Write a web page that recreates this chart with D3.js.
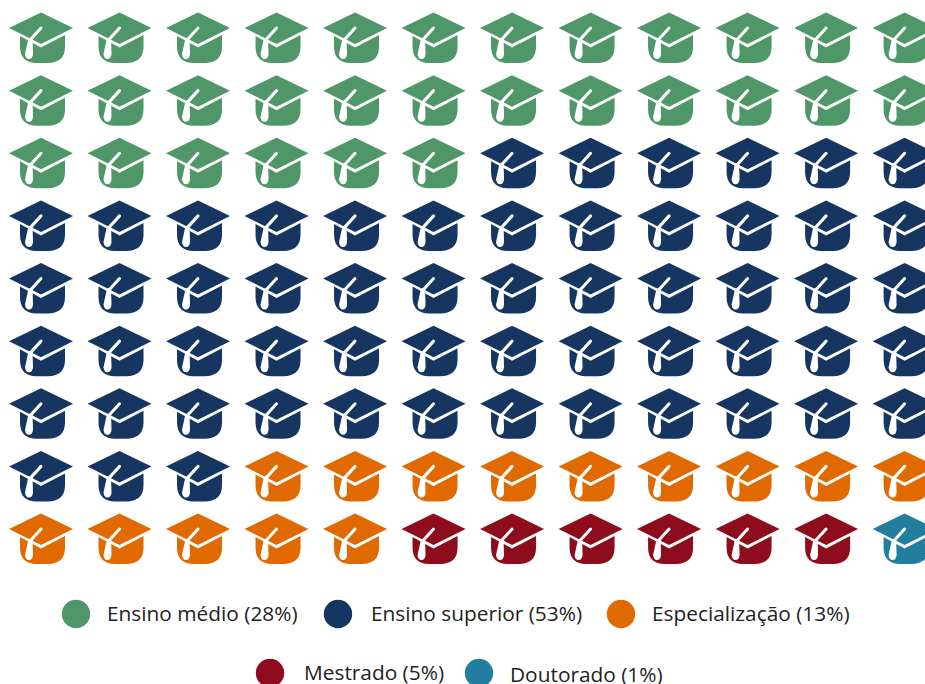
<!DOCTYPE html>
<html><head><meta charset="utf-8">
<script src="https://cdn.jsdelivr.net/npm/d3@7"></script>
<style>html,body{margin:0;padding:0;background:#fff;overflow:hidden}svg{display:block}text{font-family:"Open Sans",sans-serif;font-size:20.85px;fill:#222}</style>
</head><body><svg id="c" width="925" height="684"></svg>
<script>
const categories=["Ensino médio","Ensino superior","Especialização","Mestrado","Doutorado"];
const percents=[28,53,13,5,1];
const iconCounts=[30,57,14,6,1];
const colors=["#4f9768","#153661","#e06a00","#8e0a1e","#227e9e"];
const legendCircleX=[76,338,621,270,479];
const legendTextX=[107,371,652,304,510];
const legendY=[614,614,614,673,673];
const legendTextY=[621,621,621,680,682];
const columnCount=12,rowCount=9;

const svg=d3.select("#c");
const defs=svg.append("defs");
defs.append("filter").attr("id","soft").attr("x","-10%").attr("y","-10%").attr("width","120%").attr("height","120%")
  .append("feGaussianBlur").attr("stdDeviation",0.7);

const icons=categories.flatMap((c,i)=>d3.range(iconCounts[i]).map(()=>i));
const x=d3.scalePoint().domain(d3.range(columnCount)).range([41,904.6]);
const y=d3.scalePoint().domain(d3.range(rowCount)).range([38,539]);

const bodyPath="M-21,-2 L-21,9 C-21,20 -14,25 -5,25 L7,25 C17,25 24,20 24,9 L24,-3 L0,9.5 Z";
const capPath="M-32,-10 L0,-25.5 L32,-10 L0,6 Z";
const stemPath="M0,-10 L-10,1";
const tasselPath="M-12.5,0 L-8.5,0 L-8,16 Q-8.5,21 -12,21 Q-15.5,21 -16,16 Z";

const g=svg.append("g").attr("filter","url(#soft)");
const icon=g.selectAll("g.icon").data(icons).join("g").attr("class","icon")
  .attr("transform",(d,i)=>`translate(${x(i%columnCount)},${y(Math.floor(i/columnCount))})`);
icon.append("path").attr("d",bodyPath).attr("fill",d=>colors[d]);
icon.append("path").attr("d",capPath).attr("fill",d=>colors[d]);
icon.append("path").attr("d",stemPath).attr("stroke","#fff").attr("stroke-width",3).attr("stroke-linecap","round").attr("fill","none");
icon.append("path").attr("d",tasselPath).attr("fill","#fff");

const leg=svg.append("g");
leg.selectAll("circle").data(categories).join("circle")
  .attr("cx",(d,i)=>legendCircleX[i]).attr("cy",(d,i)=>legendY[i]).attr("r",14.2).attr("fill",(d,i)=>colors[i]);
leg.selectAll("text").data(categories).join("text")
  .attr("x",(d,i)=>legendTextX[i]).attr("y",(d,i)=>legendTextY[i]).text((d,i)=>`${d} (${percents[i]}%)`);
</script></body></html>
